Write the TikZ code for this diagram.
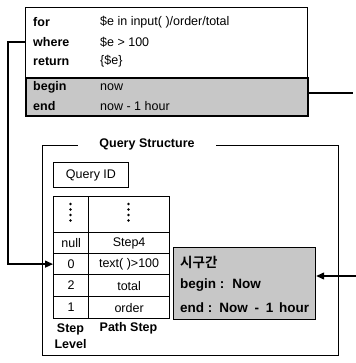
\documentclass[tikz,border=0pt]{standalone}
\usepackage{fontspec}
\setmainfont{Liberation Sans}
\newfontfamily\kor{Noto Sans CJK KR}[BoldFont={* Bold}]
\usetikzlibrary{arrows.meta}
\begin{document}
\begin{tikzpicture}[x=1pt,y=-1pt,
  font=\fontsize{12.5}{15}\selectfont,
  box/.style={draw, line width=1.3pt, inner sep=0pt, anchor=north west},
  grayfill/.style={fill=black!22},
  kw/.style={anchor=west, inner sep=0pt, font=\fontsize{12.5}{15}\selectfont\bfseries},
  gkw/.style={anchor=west, inner sep=0pt, font=\fontsize{13.5}{15}\selectfont\bfseries},
  val/.style={anchor=west, inner sep=0pt},
  cell/.style={draw, line width=1.2pt, inner sep=0pt, anchor=north west, minimum height=#1},
  conn/.style={line width=1.3pt},
  tip/.style={-{Triangle[length=8pt,width=7pt]}},
  dot/.style={fill=black}]
\useasboundingbox (0,0) rectangle (355,363);

% top query box
\node[box, minimum width=282pt, minimum height=108pt] (qbox) at (25,7) {};
\node[box, grayfill, line width=2pt, minimum width=282pt, minimum height=38pt] (tgray) at (25,77) {};
\node[kw] (kfor) at (33,22) {for};
\node[val] (vfor) at (100,22) {\$e in input( )/order/total};
\node[kw] (kwhere) at (33,42) {where};
\node[val] (vwhere) at (100,42) {\$e > 100};
\node[kw] (kret) at (33,61) {return};
\node[val] (vret) at (100,61) {\{\$e\}};
\node[kw] (kbeg) at (33,87) {begin};
\node[val] (vbeg) at (100,87) {now};
\node[kw] (kend) at (33,106) {end};
\node[val] (vend) at (100,106) {now - 1 hour};

% query structure frame
\node[box, minimum width=296pt, minimum height=210pt] (frame) at (42,145) {};
\node[fill=white, inner xsep=21pt, inner ysep=1pt, font=\fontsize{12.5}{15}\selectfont\bfseries] (title) at (147,144) {Query Structure};

\node[box, line width=1pt, minimum width=75pt, minimum height=25pt] (qid) at (53,162) {Query ID};

% table
\node[cell=36pt, minimum width=35pt] (c1d) at (53,196) {};
\node[cell=36pt, minimum width=81pt] (c2d) at (88,196) {};
\node[cell=21pt, minimum width=35pt] (c1n) at (53,232) {null};
\node[cell=21pt, minimum width=81pt] (c2n) at (88,232) {Step4};
\node[cell=21pt, minimum width=35pt] (c10) at (53,253) {0};
\node[cell=21pt, minimum width=81pt] (c20) at (88,253) {text( )>100};
\node[cell=22pt, minimum width=35pt] (c12) at (53,274) {2};
\node[cell=22pt, minimum width=81pt] (c22) at (88,274) {total};
\node[cell=22pt, minimum width=35pt] (c11) at (53,296) {1};
\node[cell=22pt, minimum width=81pt] (c21) at (88,296) {order};
\foreach \yy in {204,209.5,215,220.5}{
  \fill[dot] (70.5,\yy) circle (1.3pt);
  \fill[dot] (128.5,\yy) circle (1.3pt);
}
\node[align=center, inner sep=0pt, font=\fontsize{12.5}{16}\selectfont\bfseries] (slevel) at (70.5,336) {Step\\Level};
\node[inner sep=0pt, font=\fontsize{12.5}{15}\selectfont\bfseries] (pstep) at (128.5,328) {Path Step};

% time interval box
\node[box, grayfill, line width=1.2pt, minimum width=142pt, minimum height=72pt] (gbox) at (173,247) {};
\node[gkw] (gk) at (180,262) {\kor\bfseries 시구간};
\node[gkw] (gb) at (180,285) {begin :\hspace{3pt} Now};
\node[gkw] (ge) at (180,308) {end :\hspace{2pt} Now\hspace{3pt} -\hspace{3pt} 1\hspace{2pt} hour};

% connectors
\draw[conn, tip] (qbox.west |- kwhere) -- ++(-17,0) |- (c10.west);
\coordinate (rtop) at (353,93);
\draw[conn] (tgray.east |- rtop) -- (rtop);
\coordinate (rbot) at (356,276);
\draw[conn, tip] (rbot) -- (gbox.east |- rbot);
\end{tikzpicture}
\end{document}
